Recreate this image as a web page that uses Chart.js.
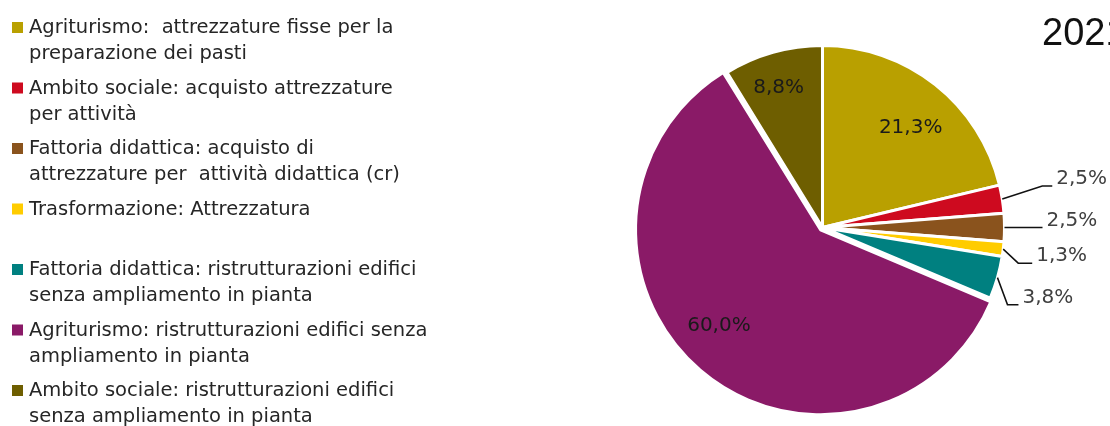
<!DOCTYPE html>
<html>
<head>
<meta charset="utf-8">
<script src="https://cdn.jsdelivr.net/npm/chart.js@4.4.1/dist/chart.umd.min.js"></script>
<style>
  html, body { margin: 0; padding: 0; background: #fff; overflow: hidden; }
  #wrap { position: relative; width: 1110px; height: 426px; }
</style>
</head>
<body>
<div id="wrap"><canvas id="chart"></canvas></div>
<script>
// categorie (righe già spezzate come nella legenda originale)
const categories = [
    ['Agriturismo:  attrezzature fisse per la', 'preparazione dei pasti'],
    ['Ambito sociale: acquisto attrezzature', 'per attività'],
    ['Fattoria didattica: acquisto di', 'attrezzature per  attività didattica (cr)'],
    ['Trasformazione: Attrezzatura'],
    ['Fattoria didattica: ristrutturazioni edifici', 'senza ampliamento in pianta'],
    ['Agriturismo: ristrutturazioni edifici senza', 'ampliamento in pianta'],
    ['Ambito sociale: ristrutturazioni edifici', 'senza ampliamento in pianta']
];
const shares = [21.3, 2.5, 2.5, 1.3, 3.8, 60.0, 8.8];
const sliceColors = ['#B9A000', '#CE0A1F', '#8A531D', '#FFCC00', '#008080', '#8A1A67', '#6E5E00'];
const yearTitle = '2021';

const FONT = '"DejaVu Sans", sans-serif';
const fmt = v => v.toFixed(1).replace('.', ',') + '%';

// posizione etichette: interne (r = frazione del raggio, da = gradi) o esterne con linea guida
const labelPlacement = [
    { inside: true, r: 0.73, da: 3.3 },
    { dx: 40, dy: -13, hline: 10 },
    { dx: 38, dy: 0, hline: 0 },
    { dx: 15, dy: 14, hline: 14 },
    { dx: 10, dy: 27, hline: 11 },
    { inside: true, r: 0.75, da: 6.3 },
    { inside: true, r: 0.805, da: -1.6 }
];

// spostamento reale dello spicchio "esploso" (come fa ArcElement.draw)
function arcShift(arc) {
    const off = (arc.options.offset || 0) / 4;
    const fix = 1 - Math.sin(Math.min(Math.PI, arc.circumference || 0));
    return off + off * fix;
}

const pieLabels = {
    id: 'pieLabels',
    afterDatasetsDraw(chart) {
        const ctx = chart.ctx;
        const arcs = chart.getDatasetMeta(0).data;
        ctx.save();
        arcs.forEach((arc, i) => {
            const p = arc.getProps(['x', 'y', 'startAngle', 'endAngle', 'outerRadius']);
            const mid = (p.startAngle + p.endAngle) / 2;
            const sh = arcShift(arc);
            const cx = p.x + Math.cos(mid) * sh, cy = p.y + Math.sin(mid) * sh;
            const cfg = labelPlacement[i];
            const txt = fmt(shares[i]);
            if (cfg.inside) {
                const a = mid + cfg.da * Math.PI / 180;
                const r = p.outerRadius * cfg.r;
                ctx.font = '20px ' + FONT;
                ctx.fillStyle = '#1a1a1a';
                ctx.textAlign = 'center';
                ctx.textBaseline = 'middle';
                ctx.fillText(txt, cx + Math.cos(a) * r, cy + Math.sin(a) * r);
            } else {
                const sx = cx + Math.cos(mid) * p.outerRadius;
                const sy = cy + Math.sin(mid) * p.outerRadius;
                const ex = sx + cfg.dx, ey = sy + cfg.dy;
                const hx = ex + cfg.hline;
                ctx.strokeStyle = '#111';
                ctx.lineWidth = 1.5;
                ctx.beginPath();
                ctx.moveTo(sx, sy);
                ctx.lineTo(ex, ey);
                ctx.lineTo(hx, ey);
                ctx.stroke();
                ctx.font = '20px ' + FONT;
                ctx.fillStyle = '#404040';
                ctx.textAlign = 'left';
                ctx.textBaseline = 'middle';
                ctx.fillText(txt, hx + 4, ey - 7);
            }
        });
        ctx.restore();
    },
    afterDraw(chart) {
        const ctx = chart.ctx;
        ctx.save();
        // legenda a sinistra
        ctx.textAlign = 'left';
        ctx.textBaseline = 'alphabetic';
        ctx.font = '19.5px ' + FONT;
        categories.forEach((lines, i) => {
            const base = 33 + i * 60.5;
            ctx.fillStyle = sliceColors[i];
            ctx.fillRect(12, base - 11, 11, 11);
            ctx.fillStyle = '#262626';
            lines.forEach((ln, j) => ctx.fillText(ln, 29, base + j * 26));
        });
        // titolo (tagliato a destra come nell'originale)
        ctx.font = '38px "Liberation Sans", Arial, sans-serif';
        ctx.fillStyle = '#111';
        ctx.fillText(yearTitle, 1042, 45);
        ctx.restore();
    }
};

new Chart(document.getElementById('chart').getContext('2d'), {
    type: 'pie',
    data: {
        labels: categories,
        datasets: [{
            data: shares,
            backgroundColor: sliceColors,
            borderColor: '#fff',
            borderWidth: 3,
            offset: shares.map((v, i) => i === 5 ? 12 : 0)
        }]
    },
    options: {
        responsive: true,
        maintainAspectRatio: false,
        animation: false,
        layout: { padding: { left: 633, right: 98, top: 38, bottom: 9 } },
        plugins: {
            legend: { display: false },
            tooltip: { enabled: false },
            title: { display: false }
        }
    },
    plugins: [pieLabels]
});
</script>
</body>
</html>
